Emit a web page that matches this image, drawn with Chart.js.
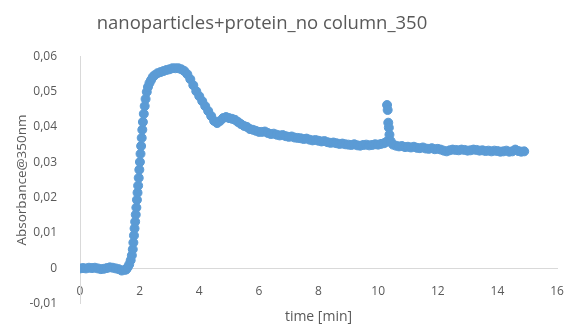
<!DOCTYPE html>
<html>
<head>
<meta charset="utf-8">
<script src="https://cdn.jsdelivr.net/npm/chart.js@4/dist/chart.umd.min.js"></script>
<style>
  html, body { margin: 0; padding: 0; background: #ffffff; }
  #wrap { width: 568px; height: 326px; position: relative; }
</style>
</head>
<body>
<div id="wrap"><canvas id="c" width="568" height="326"></canvas></div>
<script>
// Measured absorbance at 350 nm against elution time
const timeMin = [
  0.0, 0.1, 0.2, 0.3, 0.4, 0.5, 0.6, 0.7, 0.8, 0.9, 1.0, 1.1, 1.2, 1.3, 1.4, 1.5,
  1.55, 1.60, 1.65, 1.70, 1.74, 1.77, 1.79, 1.81, 1.83, 1.85, 1.87, 1.89, 1.91, 1.93,
  1.95, 1.97, 1.99, 2.01, 2.03, 2.05, 2.07, 2.09, 2.11, 2.14, 2.17, 2.20, 2.24, 2.28,
  2.33, 2.38, 2.44, 2.50,
  2.6, 2.7, 2.8, 2.9, 3.0, 3.1, 3.2, 3.3, 3.4, 3.5, 3.6, 3.7, 3.8, 3.9, 4.0, 4.1,
  4.2, 4.3, 4.4, 4.5, 4.6, 4.7, 4.8, 4.9, 5.0, 5.1, 5.2, 5.3, 5.4, 5.5, 5.6, 5.7,
  5.8, 5.9, 6.0,
  6.1, 6.2, 6.3, 6.4, 6.5, 6.6, 6.7, 6.8, 6.9, 7.0, 7.1, 7.2, 7.3, 7.4, 7.5, 7.6,
  7.7, 7.8, 7.9, 8.0, 8.1, 8.2, 8.3, 8.4, 8.5, 8.6, 8.7, 8.8, 8.9, 9.0, 9.1, 9.2,
  9.3, 9.4, 9.5, 9.6, 9.7, 9.8, 9.9, 10.0, 10.1, 10.2,
  10.28, 10.30, 10.32, 10.34, 10.36, 10.38, 10.42,
  10.5, 10.6, 10.7, 10.8, 10.9, 11.0, 11.1, 11.2, 11.3, 11.4, 11.5, 11.6, 11.7, 11.8,
  11.9, 12.0, 12.1, 12.2, 12.3, 12.4, 12.5, 12.6, 12.7, 12.8, 12.9, 13.0, 13.1, 13.2,
  13.3, 13.4, 13.5, 13.6, 13.7, 13.8, 13.9, 14.0, 14.1, 14.2, 14.3, 14.4, 14.5, 14.6,
  14.7, 14.8, 14.9
];

const absorbance = [
  0.0000, 0.0001, 0.0000, 0.0002, 0.0001, 0.0002, 0.0000, -0.0002, -0.0001, 0.0001,
  0.0003, 0.0002, 0.0000, -0.0002, -0.0006, -0.0004,
  -0.0003, 0.0003, 0.0011, 0.0023, 0.0037, 0.0054, 0.0073, 0.0093, 0.0113, 0.0132,
  0.0152, 0.0172, 0.0194, 0.0214, 0.0234, 0.0256, 0.0279, 0.0301, 0.0324, 0.0346,
  0.0369, 0.0392, 0.0414, 0.0437, 0.0459, 0.0479, 0.0499, 0.0513, 0.0524, 0.0532,
  0.0541, 0.0546,
  0.0552, 0.0555, 0.0558, 0.0561, 0.0563, 0.0566, 0.0566, 0.0566, 0.0563, 0.0558,
  0.0549, 0.0535, 0.0518, 0.0501, 0.0487, 0.0473, 0.0459, 0.0445, 0.0431, 0.0417,
  0.0411, 0.0417, 0.0425, 0.0428, 0.0425, 0.0423, 0.0420, 0.0414, 0.0408, 0.0403,
  0.0400, 0.0394, 0.0392, 0.0389, 0.0386,
  0.0386, 0.0387, 0.0383, 0.0380, 0.0381, 0.0378, 0.0376, 0.0377, 0.0374, 0.0372,
  0.0373, 0.0370, 0.0369, 0.0368, 0.0366, 0.0367, 0.0364, 0.0362, 0.0363, 0.0361,
  0.0359, 0.0360, 0.0357, 0.0355, 0.0356, 0.0354, 0.0352, 0.0353, 0.0351, 0.0350,
  0.0349, 0.0351, 0.0348, 0.0347, 0.0349, 0.0350, 0.0348, 0.0349, 0.0351, 0.0350,
  0.0352, 0.0354,
  0.0358, 0.0462, 0.0448, 0.0412, 0.0398, 0.0378, 0.0360,
  0.0350, 0.0347, 0.0345, 0.0346, 0.0343, 0.0344, 0.0342, 0.0344, 0.0341, 0.0340,
  0.0342, 0.0339, 0.0338, 0.0340, 0.0337, 0.0338, 0.0336, 0.0333, 0.0331, 0.0334,
  0.0336, 0.0335, 0.0334, 0.0336, 0.0335, 0.0333, 0.0334, 0.0336, 0.0335, 0.0333,
  0.0334, 0.0332, 0.0333, 0.0331, 0.0333, 0.0332, 0.0330, 0.0331, 0.0333, 0.0330,
  0.0331, 0.0336, 0.0332, 0.0330, 0.0331
];

const xTickValues = [0, 2, 4, 6, 8, 10, 12, 14, 16];
const yTickValues = [-0.01, 0, 0.01, 0.02, 0.03, 0.04, 0.05, 0.06];
const yTickLabels = ['-0,01', '0', '0,01', '0,02', '0,03', '0,04', '0,05', '0,06'];

const chartTitle = 'nanoparticles+protein_no column_350';
const xTitle = 'time [min]';
const yTitle = 'Absorbance@350nm';

const textColor = '#595959';
const axisColor = '#d9d9d9';
const seriesColor = '#5b9bd5';
const fontFamily = '"Open Sans", "Liberation Sans", sans-serif';

const points = timeMin.map((t, i) => ({ x: t, y: absorbance[i] }));

// Shift the title block so its text sits over the plot like a spreadsheet chart
const titleShift = {
  id: 'titleShift',
  afterLayout(chart) {
    const tb = chart.titleBlock;
    if (tb) { tb.left = 0; tb.right = 524; }
  }
};

new Chart(document.getElementById('c'), {
  type: 'scatter',
  data: {
    datasets: [{
      label: 'A350',
      data: points,
      showLine: false,
      pointRadius: 4.5,
      pointHoverRadius: 4.5,
      pointBorderWidth: 1,
      pointBackgroundColor: seriesColor,
      pointBorderColor: seriesColor
    }]
  },
  options: {
    responsive: false,
    animation: false,
    events: [],
    layout: { padding: { left: 0, right: 11, top: 0, bottom: 0 } },
    plugins: {
      legend: { display: false },
      tooltip: { enabled: false },
      title: {
        display: true,
        text: chartTitle,
        color: textColor,
        font: { family: fontFamily, size: 18.5, weight: 'normal' },
        padding: { top: 13, bottom: 21 }
      }
    },
    scales: {
      x: {
        type: 'linear',
        position: 'bottom',
        min: 0,
        max: 16,
        grid: { display: false },
        border: { display: false },
        ticks: { display: false },
        title: {
          display: true,
          text: xTitle,
          color: textColor,
          font: { family: fontFamily, size: 14 },
          padding: { top: 4, bottom: -3 }
        },
        afterFit(scale) { scale.height = 19; scale.paddingLeft = 0; scale.paddingRight = 0; }
      },
      xAxisLine: {
        type: 'linear',
        axis: 'x',
        position: { y: 0 },
        min: 0,
        max: 16,
        grid: { display: false },
        border: { display: true, color: axisColor, width: 1 },
        afterBuildTicks(scale) { scale.ticks = xTickValues.map(v => ({ value: v })); },
        ticks: {
          color: textColor,
          font: { family: fontFamily, size: 12 },
          padding: 8,
          maxRotation: 0,
          callback: (v) => String(v)
        },
        afterFit(scale) { scale.paddingLeft = 0; scale.paddingRight = 0; }
      },
      y: {
        type: 'linear',
        position: 'left',
        min: -0.01,
        max: 0.06,
        grid: { display: false },
        border: { display: true, color: axisColor, width: 1 },
        afterBuildTicks(scale) { scale.ticks = yTickValues.map(v => ({ value: v })); },
        ticks: {
          color: textColor,
          font: { family: fontFamily, size: 12 },
          padding: 15,
          callback: (v) => {
            const i = yTickValues.findIndex(t => Math.abs(t - v) < 1e-9);
            return i >= 0 ? yTickLabels[i] : '';
          }
        },
        title: {
          display: true,
          text: yTitle,
          color: textColor,
          font: { family: fontFamily, size: 13.5 },
          padding: { top: 14, bottom: 0 }
        },
        afterFit(scale) { scale.width = 80; }
      }
    }
  },
  plugins: [titleShift]
});
</script>
</body>
</html>
